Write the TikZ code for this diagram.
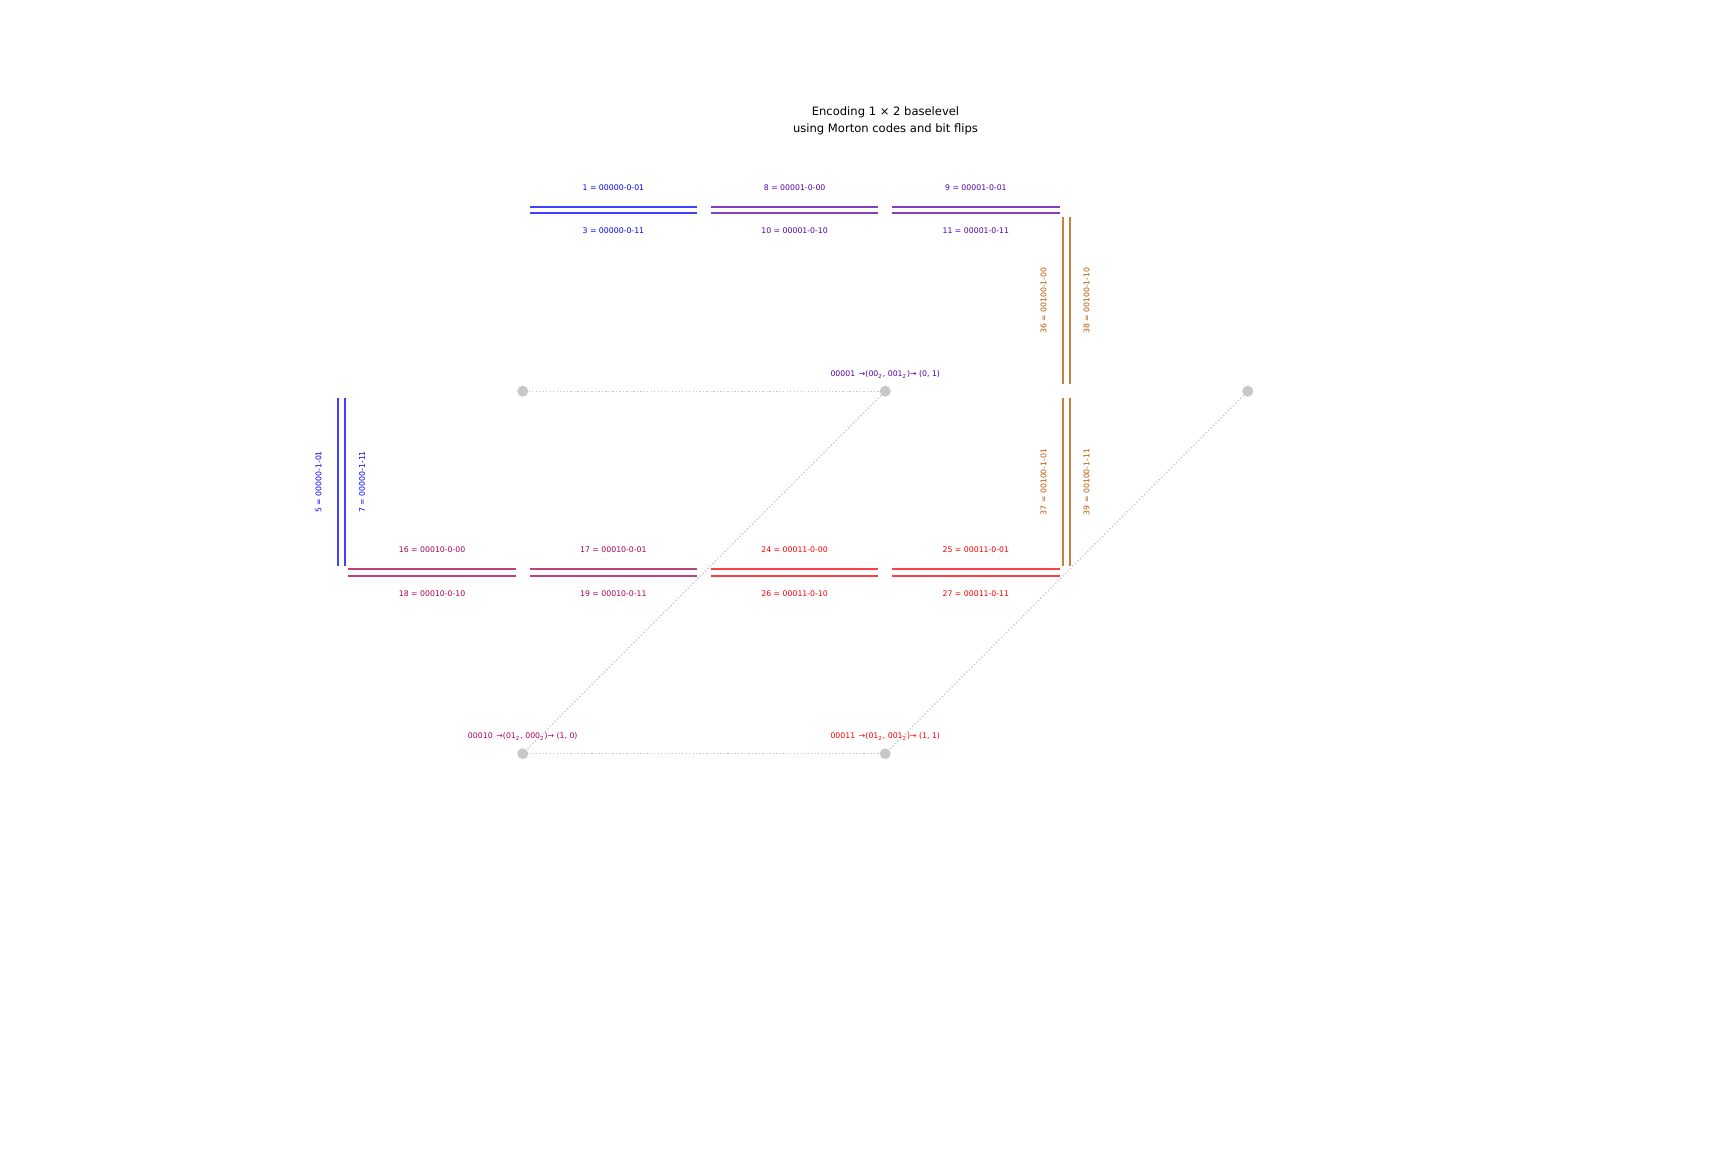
\documentclass[tikz,border=0pt]{standalone}
\usepackage{fontspec}
\setmainfont{DejaVu Sans}

\definecolor{lvlA}{RGB}{0,0,255}
\definecolor{lvlB}{RGB}{85,0,170}
\definecolor{lvlC}{RGB}{170,0,85}
\definecolor{lvlD}{RGB}{255,0,0}
\definecolor{lvlE}{RGB}{180,85,0}
\definecolor{dotgray}{RGB}{200,200,200}
\definecolor{linegray}{RGB}{198,198,198}

\tikzset{
	bitline/.style = {draw = #1!75!white, line width = 1pt, double = white, double distance = 2.5pt},
	lab/.style = {text = #1, inner sep = 0pt, font = \fontsize{3.9pt}{4.7pt}\selectfont},
	gpt/.style = {circle, fill = dotgray, minimum size = 5.5pt, inner sep = 0pt},
	gridline/.style = {draw = linegray, line width = 0.65pt, dash pattern = on 0.65pt off 1.1pt},
	ttl/.style = {align = center, inner sep = 0pt, font = \fontsize{5.8pt}{8.6pt}\selectfont}
}

\begin{document}
\begin{tikzpicture}[x = 0.5bp, y = -0.5bp]
	\useasboundingbox (0, 0) rectangle (1728, 1152);
	\node[ttl] (title) at (885.5, 120.5) {Encoding 1 × 2 baselevel\\using Morton codes and bit flips};
	% grid points
	\node[gpt] (p00) at (522.75, 391.25) {};
	\node[gpt] (p01) at (885.25, 391.25) {};
	\node[gpt] (p02) at (1247.75, 391.25) {};
	\node[gpt] (p10) at (522.75, 753.75) {};
	\node[gpt] (p11) at (885.25, 753.75) {};
	\draw[gridline] (p00) -- (p01);
	\draw[gridline] (p10) -- (p11);
	\draw[gridline] (p01) -- (p10);
	\draw[gridline] (p02) -- (p11);
	\node[lab = lvlB, anchor = base] (c01) at ([yshift = 7.5pt]p01) {00001 \,→(00\textsubscript{2}, 001\textsubscript{2})→ (0, 1)};
	\node[lab = lvlC, anchor = base] (c10) at ([yshift = 7.5pt]p10) {00010 \,→(01\textsubscript{2}, 000\textsubscript{2})→ (1, 0)};
	\node[lab = lvlD, anchor = base] (c11) at ([yshift = 7.5pt]p11) {00011 \,→(01\textsubscript{2}, 001\textsubscript{2})→ (1, 1)};
	% top row
	\draw[bitline = lvlA] (529.55, 210) -- node[lab = lvlA, yshift = 11.25pt] (e1) {1 = 00000-0-01} node[lab = lvlA, yshift = -10.5pt] (e3) {3 = 00000-0-11} (697.2, 210);
	\draw[bitline = lvlB] (710.8, 210) -- node[lab = lvlB, yshift = 11.25pt] (e8) {8 = 00001-0-00} node[lab = lvlB, yshift = -10.5pt] (e10) {10 = 00001-0-10} (878.45, 210);
	\draw[bitline = lvlB] (892.05, 210) -- node[lab = lvlB, yshift = 11.25pt] (e9) {9 = 00001-0-01} node[lab = lvlB, yshift = -10.5pt] (e11) {11 = 00001-0-11} (1059.7, 210);
	% bottom row
	\draw[bitline = lvlC] (348.3, 572.5) -- node[lab = lvlC, yshift = 11.25pt] (e16) {16 = 00010-0-00} node[lab = lvlC, yshift = -10.5pt] (e18) {18 = 00010-0-10} (515.95, 572.5);
	\draw[bitline = lvlC] (529.55, 572.5) -- node[lab = lvlC, yshift = 11.25pt] (e17) {17 = 00010-0-01} node[lab = lvlC, yshift = -10.5pt] (e19) {19 = 00010-0-11} (697.2, 572.5);
	\draw[bitline = lvlD] (710.8, 572.5) -- node[lab = lvlD, yshift = 11.25pt] (e24) {24 = 00011-0-00} node[lab = lvlD, yshift = -10.5pt] (e26) {26 = 00011-0-10} (878.45, 572.5);
	\draw[bitline = lvlD] (892.05, 572.5) -- node[lab = lvlD, yshift = 11.25pt] (e25) {25 = 00011-0-01} node[lab = lvlD, yshift = -10.5pt] (e27) {27 = 00011-0-11} (1059.7, 572.5);
	% vertical edges
	\draw[bitline = lvlA] (341.5, 565.7) -- node[lab = lvlA, xshift = -11.5pt, rotate = 90] (e5) {5 = 00000-1-01} node[lab = lvlA, xshift = 10.25pt, rotate = 90] (e7) {7 = 00000-1-11} (341.5, 398.05);
	\draw[bitline = lvlE] (1066.5, 384.45) -- node[lab = lvlE, xshift = -11.5pt, rotate = 90] (e36) {36 = 00100-1-00} node[lab = lvlE, xshift = 10pt, rotate = 90] (e38) {38 = 00100-1-10} (1066.5, 216.8);
	\draw[bitline = lvlE] (1066.5, 565.7) -- node[lab = lvlE, xshift = -11.5pt, rotate = 90] (e37) {37 = 00100-1-01} node[lab = lvlE, xshift = 10pt, rotate = 90] (e39) {39 = 00100-1-11} (1066.5, 398.05);
\end{tikzpicture}
\end{document}
